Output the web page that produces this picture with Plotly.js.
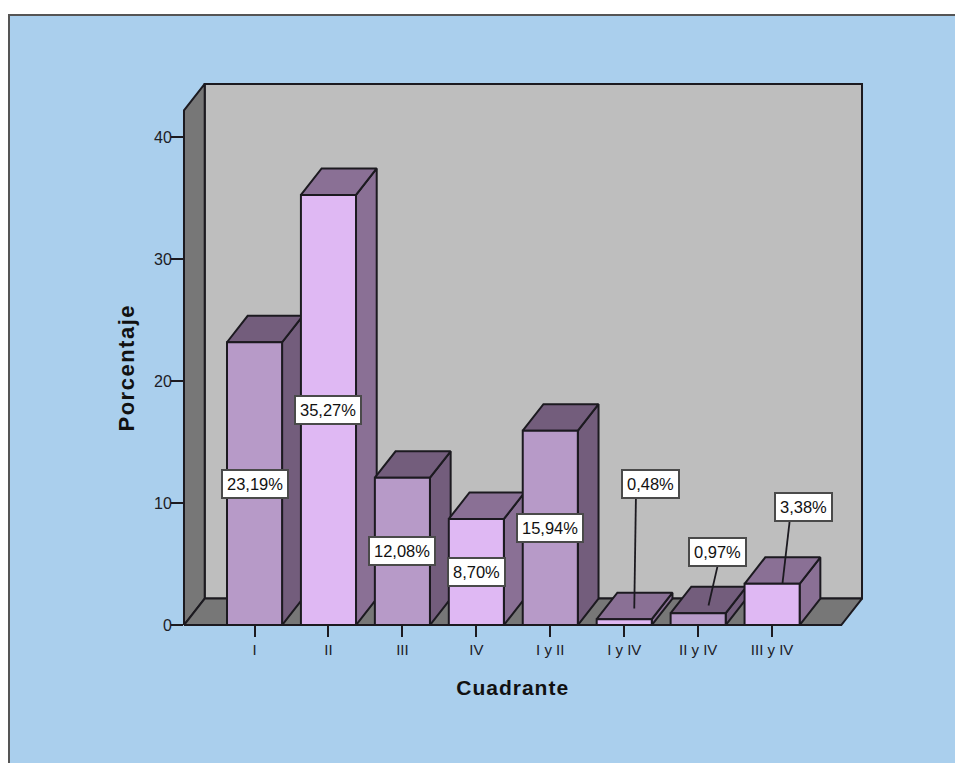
<!DOCTYPE html>
<html>
<head>
<meta charset="utf-8">
<script src="https://cdn.plot.ly/plotly-3.0.1.min.js"></script>
<style>
  html, body { margin: 0; padding: 0; background: #fff; overflow: hidden; }
  #frame {
    position: absolute; left: 8px; top: 14px; width: 947px; height: 749px;
    box-sizing: border-box; border-left: 2px solid #555; border-top: 2px solid #555;
  }
  .x2title { letter-spacing: 1px; }
  .y2title { letter-spacing: 1.5px; }
</style>
</head>
<body>
<div id="frame"><div id="chart"></div></div>
<script>
// Percentage of cases per quadrant combination
const categories = ['I', 'II', 'III', 'IV', 'I y II', 'I y IV', 'II y IV', 'III y IV'];
const values = [23.19, 35.27, 12.08, 8.70, 15.94, 0.48, 0.97, 3.38];

const yTicks = [0, 10, 20, 30, 40];

// Extruded box look: depth of the walls and bars, in axis units
const depthX = 0.28;
const depthY = 2.17;
const barWidth = 0.745;
const xRange = [-0.954, 7.936];
const yRange = [0, 42.2];

// Spare room around the box so its outer outline keeps its full width
const padX = 0.054;
const padY = 0.327;

// Alternating palette for the bars
const frontColors = ['#b79ac8', '#dfb8f3'];
const shadeColors = ['#735d7c', '#8a7095'];
const edge = '#1c1a20';
const tickText = '#1c2026';
const fontFamily = '"Liberation Sans", Arial, sans-serif';

// Boxed labels that sit beside their bar, joined to it by a leader line
const callouts = {
  5: { box: [5.352, 11.55], from: [5.158, 10.36], to: [5.136, 1.35] },
  6: { box: [6.26, 5.98], from: [6.26, 4.77], to: [6.14, 1.6] },
  7: { box: [7.43, 9.7], from: [7.237, 8.5], to: [7.14, 3.4] }
};

const formatValue = v => v.toFixed(2).replace('.', ',') + '%';

function polygon(xs, ys, fill, name) {
  return {
    type: 'scatter', mode: 'lines', x: xs, y: ys, fill: 'toself', fillcolor: fill,
    line: { color: edge, width: 2 }, hoverinfo: 'skip', showlegend: false, name: name
  };
}

const traces = [];
const [x0, x1] = xRange;
const yTop = yRange[1];
const spanX = x1 - x0 + depthX + 2 * padX;
const spanY = yTop + depthY + 2 * padY;

// Chart box: back wall, left wall and floor (on the full-size hidden subplot)
traces.push(polygon([x0 + depthX, x1 + depthX, x1 + depthX, x0 + depthX, x0 + depthX],
  [depthY, depthY, yTop + depthY, yTop + depthY, depthY], '#bebebe', 'back wall'));
traces.push(polygon([x0, x0 + depthX, x0 + depthX, x0, x0],
  [0, depthY, yTop + depthY, yTop, 0], '#777777', 'left wall'));
traces.push(polygon([x0, x1, x1 + depthX, x0 + depthX, x0],
  [0, 0, depthY, depthY, 0], '#777777', 'floor'));

// Top and side face of each bar, left to right so later bars overlap earlier ones
values.forEach((v, i) => {
  const l = i - barWidth / 2, r = i + barWidth / 2;
  const shade = shadeColors[i % 2];
  traces.push(polygon([r, r + depthX, r + depthX, r, r],
    [0, depthY, v + depthY, v, 0], shade, categories[i] + ' side'));
  traces.push(polygon([l, r, r + depthX, l + depthX, l],
    [v, v, v + depthY, v + depthY, v], shade, categories[i] + ' top'));
});

// Front faces live on the subplot that carries the visible axes and is drawn last,
// so they cover the neighbouring side face
traces.push({
  type: 'bar', x: categories.map((_, i) => i), y: values, width: barWidth,
  xaxis: 'x2', yaxis: 'y2', cliponaxis: false, showlegend: false,
  marker: { color: values.map((_, i) => frontColors[i % 2]), line: { color: edge, width: 2 } },
  hovertext: categories, hoverinfo: 'text+y'
});

// Leader lines
Object.values(callouts).forEach(c => {
  traces.push({
    type: 'scatter', mode: 'lines', xaxis: 'x2', yaxis: 'y2', showlegend: false,
    x: [c.from[0], c.to[0]], y: [c.from[1], c.to[1]], hoverinfo: 'skip',
    line: { color: edge, width: 1.8 }
  });
});

const annotations = values.map((v, i) => {
  const c = callouts[i];
  return {
    xref: 'x2', yref: 'y2', x: c ? c.box[0] : i, y: c ? c.box[1] : v / 2,
    text: formatValue(v), showarrow: false,
    font: { family: fontFamily, size: 16.5, color: '#111' },
    bgcolor: '#ffffff', bordercolor: '#4a4a4a', borderwidth: 2, borderpad: 4
  };
});

const layout = {
  width: 945, height: 747,
  margin: { l: 170, r: 88.6, t: 63.5, b: 133.5 },
  paper_bgcolor: '#aacfed', plot_bgcolor: 'rgba(0,0,0,0)',
  barmode: 'overlay', showlegend: false, annotations: annotations,
  font: { family: fontFamily, color: '#222' },
  // Hidden axes spanning the front face plus the depth of the box
  xaxis: { range: [x0 - padX, x1 + depthX + padX], domain: [0, 1], visible: false },
  yaxis: { range: [-padY, yTop + depthY + padY], domain: [0, 1], visible: false },
  // Visible axes spanning the front face only
  xaxis2: {
    anchor: 'y2', domain: [padX / spanX, (padX + x1 - x0) / spanX],
    range: xRange, tickvals: categories.map((_, i) => i), ticktext: categories,
    ticks: 'outside', ticklen: 11, tickwidth: 2, tickcolor: edge,
    showgrid: false, zeroline: false, showline: false,
    tickfont: { size: 15, color: tickText },
    title: { text: 'Cuadrante', font: { size: 21, color: '#111', weight: 700 }, standoff: 23 }
  },
  yaxis2: {
    anchor: 'x2', domain: [padY / spanY, (padY + yTop) / spanY],
    range: yRange, tickvals: yTicks,
    ticks: 'outside', ticklen: 12, tickwidth: 2, tickcolor: edge,
    ticklabelstandoff: -4,
    showgrid: false, zeroline: false, showline: false,
    tickfont: { size: 16, color: tickText },
    title: { text: 'Porcentaje', font: { size: 22, color: '#111', weight: 700 }, standoff: 13 }
  }
};

Plotly.newPlot('chart', traces, layout, { displayModeBar: false });
</script>
</body>
</html>
